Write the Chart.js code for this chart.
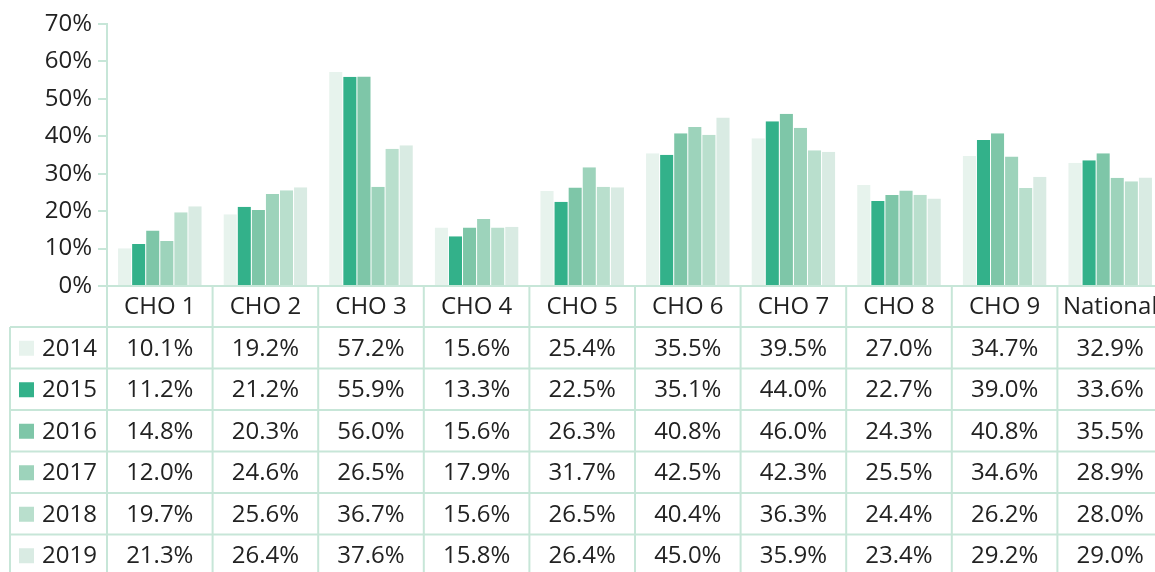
<!DOCTYPE html>
<html>
<head>
<meta charset="utf-8">
<script src="https://cdn.jsdelivr.net/npm/chart.js@4"></script>
<style>
  html, body { margin: 0; padding: 0; background: #fff; overflow: hidden; }
  #wrap { width: 1164px; height: 572px; }
</style>
</head>
<body>
<div id="wrap"><canvas id="chart"></canvas></div>
<script>
// chart values
const categories = ['CHO 1', 'CHO 2', 'CHO 3', 'CHO 4', 'CHO 5', 'CHO 6', 'CHO 7', 'CHO 8', 'CHO 9', 'National'];
const years = ['2014', '2015', '2016', '2017', '2018', '2019'];
const values2014 = [10.1, 19.2, 57.2, 15.6, 25.4, 35.5, 39.5, 27.0, 34.7, 32.9];
const values2015 = [11.2, 21.2, 55.9, 13.3, 22.5, 35.1, 44.0, 22.7, 39.0, 33.6];
const values2016 = [14.8, 20.3, 56.0, 15.6, 26.3, 40.8, 46.0, 24.3, 40.8, 35.5];
const values2017 = [12.0, 24.6, 26.5, 17.9, 31.7, 42.5, 42.3, 25.5, 34.6, 28.9];
const values2018 = [19.7, 25.6, 36.7, 15.6, 26.5, 40.4, 36.3, 24.4, 26.2, 28.0];
const values2019 = [21.3, 26.4, 37.6, 15.8, 26.4, 45.0, 35.9, 23.4, 29.2, 29.0];
const yTicks = [0, 10, 20, 30, 40, 50, 60, 70];

const seriesValues = [values2014, values2015, values2016, values2017, values2018, values2019];
const colors = ['#e7f3ed', '#33b18a', '#7ec6a8', '#9dd3bb', '#b9dfcd', '#d9ebe3'];
const lineColor = '#c7e6d8';
const textColor = '#222222';
const fontFamily = '"Open Sans", "Noto Sans", sans-serif';

// draws the data table under the plot, aligned to the x scale
const dataTable = {
    id: 'dataTable',
    afterDraw(chart) {
        const ctx = chart.ctx;
        const x = chart.scales.x;
        const area = chart.chartArea;
        const catW = (area.right - area.left) / categories.length;
        const headerTop = area.bottom;
        const headerH = 41;
        const rowH = 41.5;
        const tableLeft = 10;
        const bottom = chart.height + 10;

        ctx.save();
        ctx.strokeStyle = lineColor;
        ctx.lineWidth = 2;

        // x axis line
        ctx.beginPath();
        ctx.moveTo(area.left - 9, headerTop);
        ctx.lineTo(area.right + 5, headerTop);
        ctx.stroke();

        // vertical lines
        ctx.beginPath();
        for (let i = 0; i <= categories.length; i++) {
            const px = area.left + i * catW;
            ctx.moveTo(px, headerTop);
            ctx.lineTo(px, bottom);
        }
        ctx.moveTo(tableLeft, headerTop + headerH);
        ctx.lineTo(tableLeft, bottom);
        ctx.stroke();

        // horizontal lines
        ctx.beginPath();
        for (let r = 0; r <= years.length; r++) {
            const py = headerTop + headerH + r * rowH;
            ctx.moveTo(tableLeft, py);
            ctx.lineTo(area.right + 5, py);
        }
        ctx.stroke();

        ctx.font = '24px ' + fontFamily;
        ctx.fillStyle = textColor;
        ctx.textAlign = 'center';
        ctx.textBaseline = 'middle';

        // header
        categories.forEach((c, i) => {
            ctx.fillText(c, x.getPixelForValue(i), headerTop + headerH / 2 + 1);
        });

        // rows
        years.forEach((yr, r) => {
            const cy = headerTop + headerH + r * rowH + rowH / 2 + 1;
            ctx.fillStyle = colors[r];
            ctx.fillRect(19, cy - 8, 15, 15);
            ctx.fillStyle = textColor;
            ctx.textAlign = 'left';
            ctx.fillText(yr, 42, cy);
            ctx.textAlign = 'center';
            seriesValues[r].forEach((v, i) => {
                ctx.fillText(v.toFixed(1) + '%', x.getPixelForValue(i), cy);
            });
        });
        ctx.restore();
    }
};

const ctx = document.getElementById('chart').getContext('2d');
new Chart(ctx, {
    type: 'bar',
    data: {
        labels: categories,
        datasets: years.map((yr, i) => ({
            label: yr,
            data: seriesValues[i],
            backgroundColor: colors[i],
            borderColor: '#ffffff',
            borderWidth: { left: 0.5, right: 0.5, top: 0, bottom: 0 },
            categoryPercentage: 0.8,
            barPercentage: 1.0
        }))
    },
    options: {
        responsive: true,
        maintainAspectRatio: false,
        animation: false,
        layout: { padding: { top: 24, right: 1, bottom: 286, left: 0 } },
        plugins: {
            legend: { display: false },
            tooltip: { enabled: false }
        },
        scales: {
            x: {
                ticks: { display: false },
                grid: { display: false },
                border: { display: false },
                afterFit(scale) { scale.height = 0; }
            },
            y: {
                min: 0,
                max: 70,
                afterBuildTicks(scale) { scale.ticks = yTicks.map(v => ({ value: v })); },
                afterFit(scale) { scale.width = 107; },
                ticks: {
                    callback: v => v + '%',
                    color: textColor,
                    font: { family: fontFamily, size: 24 },
                    padding: 6
                },
                grid: {
                    drawOnChartArea: false,
                    color: lineColor,
                    lineWidth: 2,
                    tickLength: 9
                },
                border: { color: lineColor, width: 2 }
            }
        }
    },
    plugins: [dataTable]
});
</script>
</body>
</html>
